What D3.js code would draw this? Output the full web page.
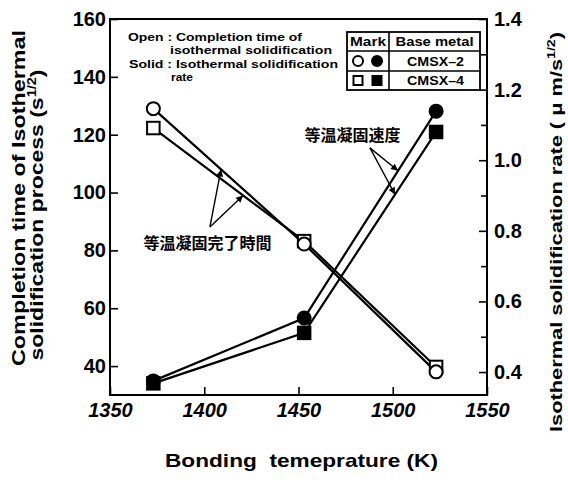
<!DOCTYPE html>
<html><head><meta charset="utf-8">
<script src="https://cdn.jsdelivr.net/npm/d3@7"></script>
<style>
html,body{margin:0;padding:0;background:#fff;}
svg{display:block;font-family:"Liberation Sans",Arial,sans-serif;}
</style></head>
<body>
<svg id="c" width="568" height="480"></svg>
<script>
// ---- data ----
const temps = [1373, 1453, 1523];
const cmsx2Time = [129.0, 82.2, 38.0];
const cmsx4Time = [122.3, 83.2, 39.7];
const cmsx2Rate = [0.375, 0.553, 1.139];
const cmsx4Rate = [0.368, 0.511, 1.080];
const xTicks = [1350, 1400, 1450, 1500, 1550];
const yLeftTicks = [40, 60, 80, 100, 120, 140, 160];
const yRightTicks = [0.4, 0.6, 0.8, 1.0, 1.2, 1.4];
const yRightMinor = [0.5, 0.7, 0.9, 1.1, 1.3];
// annotation anchors (data coordinates)
const timeNote = {label: "等温凝固完了時間", text: [1401.7, 82.5], from: [1403, 88.1], tips: [[1408.9, 108.0], [1420.6, 99.0]]};
const rateNote = {label: "等温凝固速度", text: [1478.6, 1.071], from: [1487.9, 1.035], tips: [[1502.8, 0.970], [1501.2, 0.903]]};

const svg = d3.select("#c");
const L = 110, R = 487, T = 19, B = 395;
const x = d3.scaleLinear().domain([1350, 1550]).range([L, R]);
const yL = d3.scaleLinear().domain([30, 160]).range([B, T]);
const yR = d3.scaleLinear().domain([0.335, 1.4]).range([B, T]);

// frame
svg.append("rect").attr("x", L).attr("y", T).attr("width", R - L).attr("height", B - T)
  .attr("fill", "none").attr("stroke", "#000").attr("stroke-width", 2);

function styleAxis(g, fs, italic) {
  g.select(".domain").remove();
  g.selectAll(".tick line").attr("stroke", "#000").attr("stroke-width", 1.6);
  g.selectAll(".tick text").attr("fill", "#000").attr("font-size", fs).attr("font-weight", "bold")
    .attr("font-style", italic ? "italic" : "normal");
}
svg.append("g").attr("transform", `translate(${L},0)`)
  .call(d3.axisLeft(yL).tickValues(yLeftTicks).tickFormat(d3.format("d")).tickSizeInner(-8).tickSizeOuter(0).tickPadding(4))
  .call(g => styleAxis(g, 20, false));
svg.append("g").attr("transform", `translate(${R},0)`)
  .call(d3.axisRight(yR).tickValues(yRightTicks).tickFormat(d3.format(".1f")).tickSizeInner(-8).tickSizeOuter(0).tickPadding(7))
  .call(g => styleAxis(g, 20, false));
svg.append("g").attr("transform", `translate(${R},0)`)
  .call(d3.axisRight(yR).tickValues(yRightMinor).tickFormat("").tickSizeInner(-6).tickSizeOuter(0))
  .call(g => styleAxis(g, 20, false));
svg.append("g").attr("transform", `translate(0,${B})`)
  .call(d3.axisBottom(x).tickValues(xTicks).tickFormat(d3.format("d")).tickSizeInner(-8).tickSizeOuter(0).tickPadding(8))
  .call(g => styleAxis(g, 20, true));

// axis titles
svg.append("text").attr("x", 301.5).attr("y", 467).attr("text-anchor", "middle")
  .attr("font-size", 19).attr("font-weight", "bold").style("white-space", "pre")
  .attr("textLength", 273).attr("lengthAdjust", "spacingAndGlyphs")
  .text("Bonding  temeprature (K)");

svg.append("text").attr("transform", "translate(25,198) rotate(-90)")
  .attr("text-anchor", "middle").attr("font-size", 19).attr("font-weight", "bold")
  .attr("textLength", 336).attr("lengthAdjust", "spacingAndGlyphs")
  .text("Completion time of Isothermal");
const lt2 = svg.append("text").attr("transform", "translate(43,215) rotate(-90)")
  .attr("text-anchor", "middle").attr("font-size", 19).attr("font-weight", "bold")
  .attr("textLength", 291).attr("lengthAdjust", "spacingAndGlyphs");
lt2.append("tspan").text("solidification process (s");
lt2.append("tspan").attr("font-size", 12).attr("dy", -7).text("1/2");
lt2.append("tspan").attr("dy", 7).text(")");

const rt = svg.append("text").attr("transform", "translate(562,232) rotate(-90)")
  .attr("text-anchor", "middle").attr("font-size", 17).attr("font-weight", "bold")
  .attr("textLength", 400).attr("lengthAdjust", "spacingAndGlyphs");
rt.append("tspan").text("Isothermal solidification rate ( \u03bc m/s");
rt.append("tspan").attr("font-size", 11).attr("dy", -7).text("1/2");
rt.append("tspan").attr("dy", 7).text(")");

// lines
const lineL = d3.line().x((d, i) => x(temps[i])).y(d => yL(d));
const lineR = d3.line().x((d, i) => x(temps[i])).y(d => yR(d));
[cmsx2Time, cmsx4Time].forEach(s => svg.append("path").attr("d", lineL(s))
  .attr("fill", "none").attr("stroke", "#000").attr("stroke-width", 2.2));
[cmsx2Rate, cmsx4Rate].forEach(s => svg.append("path").attr("d", lineR(s))
  .attr("fill", "none").attr("stroke", "#000").attr("stroke-width", 2.2));

// markers
function circle(cx, cy, filled, r) {
  svg.append("circle").attr("cx", cx).attr("cy", cy).attr("r", r || 6.5)
    .attr("fill", filled ? "#000" : "#fff").attr("stroke", "#000").attr("stroke-width", 2);
}
function square(cx, cy, filled, s) {
  s = s || 12.5;
  svg.append("rect").attr("x", cx - s / 2).attr("y", cy - s / 2).attr("width", s).attr("height", s)
    .attr("fill", filled ? "#000" : "#fff").attr("stroke", "#000").attr("stroke-width", 2);
}
temps.forEach((t, i) => square(x(t), yL(cmsx4Time[i]), false));
temps.forEach((t, i) => circle(x(t), yL(cmsx2Time[i]), false));
temps.forEach((t, i) => square(x(t), yR(cmsx4Rate[i]), true));
temps.forEach((t, i) => circle(x(t), yR(cmsx2Rate[i]), true));

// annotations
svg.append("defs").append("marker").attr("id", "ah").attr("viewBox", "0 0 10 10")
  .attr("refX", 10).attr("refY", 5).attr("markerWidth", 9).attr("markerHeight", 7)
  .attr("markerUnits", "userSpaceOnUse").attr("orient", "auto")
  .append("path").attr("d", "M0,0L10,5L0,10z").attr("fill", "#000");
function note(n, yScale) {
  n.tips.forEach(tp => svg.append("line")
    .attr("x1", x(n.from[0])).attr("y1", yScale(n.from[1]))
    .attr("x2", x(tp[0])).attr("y2", yScale(tp[1]))
    .attr("stroke", "#000").attr("stroke-width", 1.4).attr("marker-end", "url(#ah)"));
  svg.append("text").attr("x", x(n.text[0])).attr("y", yScale(n.text[1])).attr("dy", "0.36em")
    .attr("text-anchor", "middle").attr("font-family", "'Noto Sans CJK JP',sans-serif")
    .attr("font-size", 16).attr("font-weight", "bold").text(n.label);
}
note(timeNote, yL);
note(rateNote, yR);

// key text
const keyLines = [
  {x: 128, y: 41, w: 174, t: "Open : Completion time of"},
  {x: 170, y: 54, w: 162, t: "isothermal solidification"},
  {x: 129, y: 68, w: 209, t: "Solid : Isothermal solidification"},
  {x: 171, y: 81, w: 22, t: "rate"}
];
keyLines.forEach(k => svg.append("text").attr("x", k.x).attr("y", k.y)
  .attr("font-size", 11.5).attr("font-weight", "bold")
  .attr("textLength", k.w).attr("lengthAdjust", "spacingAndGlyphs").text(k.t));

// legend table
const tb = {x0: 347, x1: 480, xm: 389, y: [32, 51, 71, 90]};
svg.append("rect").attr("x", tb.x0).attr("y", tb.y[0]).attr("width", tb.x1 - tb.x0).attr("height", tb.y[3] - tb.y[0])
  .attr("fill", "#fff").attr("stroke", "#000").attr("stroke-width", 1.8);
[tb.y[1], tb.y[2]].forEach(yy => svg.append("line").attr("x1", tb.x0).attr("x2", tb.x1)
  .attr("y1", yy).attr("y2", yy).attr("stroke", "#000").attr("stroke-width", 1.6));
svg.append("line").attr("x1", tb.xm).attr("x2", tb.xm).attr("y1", tb.y[0]).attr("y2", tb.y[3])
  .attr("stroke", "#000").attr("stroke-width", 1.6);
const tcell = (cx, cy, t, w) => svg.append("text").attr("x", cx).attr("y", cy).attr("dy", "0.36em")
  .attr("text-anchor", "middle").attr("font-size", 13).attr("font-weight", "bold")
  .attr("textLength", w).attr("lengthAdjust", "spacingAndGlyphs").text(t);
tcell((tb.x0 + tb.xm) / 2, (tb.y[0] + tb.y[1]) / 2, "Mark", 36);
tcell((tb.xm + tb.x1) / 2, (tb.y[0] + tb.y[1]) / 2, "Base metal", 78);
tcell((tb.xm + tb.x1) / 2 + 1, (tb.y[1] + tb.y[2]) / 2, "CMSX\u20132", 57);
tcell((tb.xm + tb.x1) / 2 + 1, (tb.y[2] + tb.y[3]) / 2, "CMSX\u20134", 57);
circle(358, (tb.y[1] + tb.y[2]) / 2, false, 5);
circle(377, (tb.y[1] + tb.y[2]) / 2, true, 5);
square(358, (tb.y[2] + tb.y[3]) / 2, false, 9);
square(377, (tb.y[2] + tb.y[3]) / 2, true, 9);
</script>
</body></html>
